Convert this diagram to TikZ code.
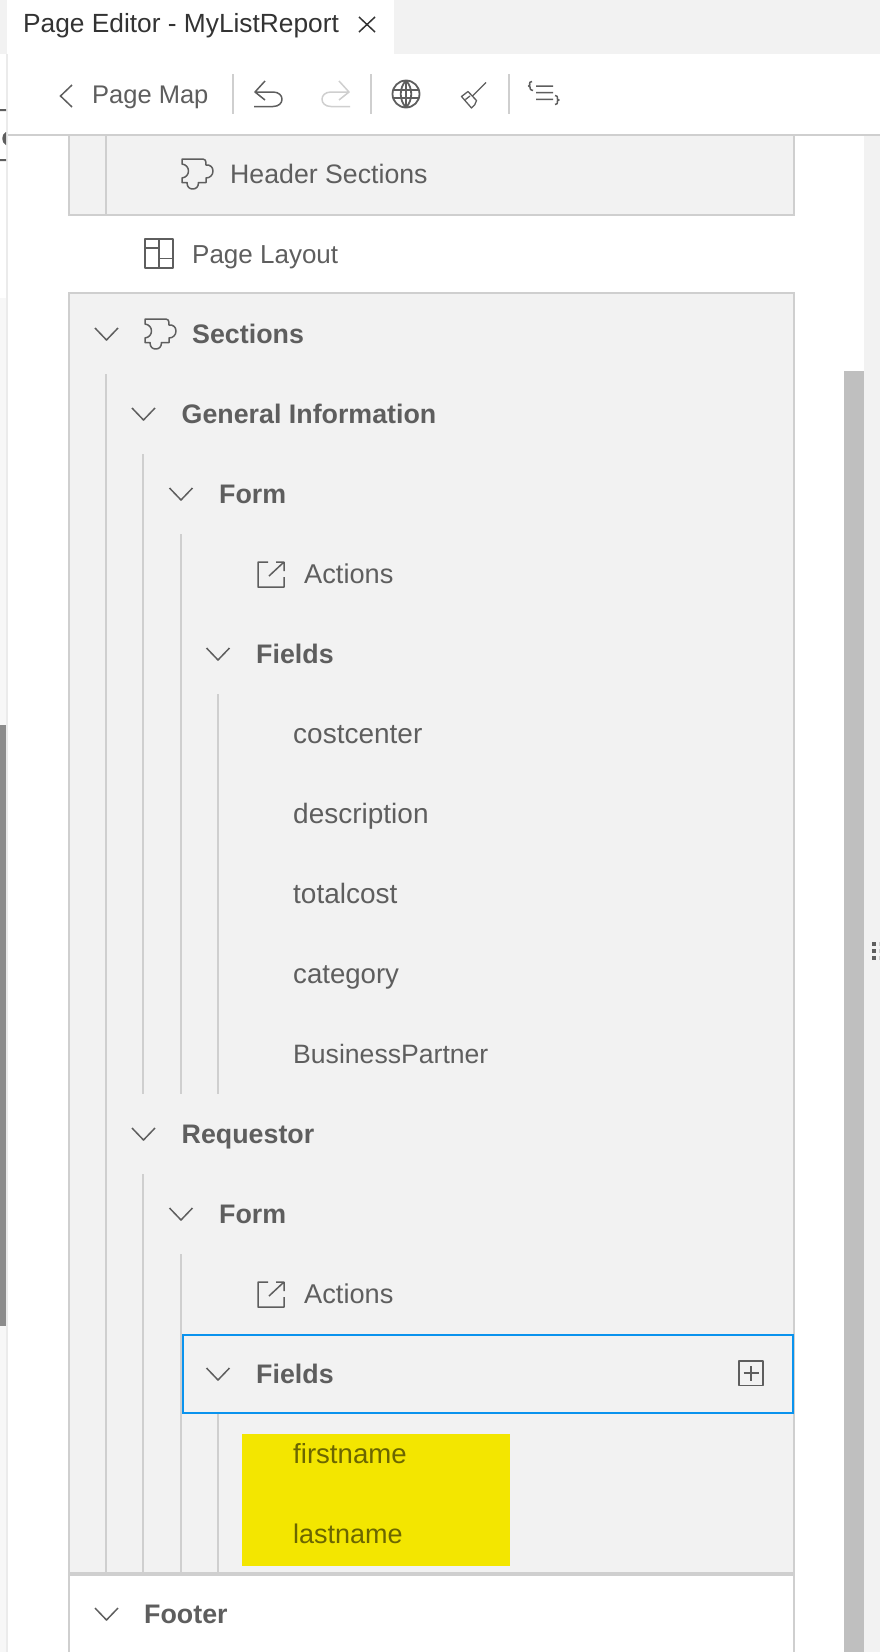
\documentclass[tikz,border=0pt]{standalone}
\usepackage{fontspec}
\setmainfont{Liberation Sans}
\definecolor{cpanel}{HTML}{F2F2F2}
\definecolor{cline}{HTML}{CFCFCF}
\definecolor{cink}{HTML}{5E5E5E}
\definecolor{cdark}{HTML}{333333}
\definecolor{cblue}{HTML}{0A93EE}
\definecolor{cyell}{HTML}{F3E600}
\definecolor{colive}{HTML}{6B6600}
\definecolor{cscroll}{HTML}{BFBFBF}
\tikzset{
  itm/.style={anchor=base west,inner sep=0pt,text=cink},
  bld/.style={itm,font=\fontsize{26.8}{31}\selectfont\bfseries},
  guide/.style={cline,line width=2pt},
  ico/.style={cink,line width=1.5pt,line join=round},
}
\newcommand{\chev}[2]{\draw[ico] (#1-11.5,#2-6) -- (#1,#2+6) -- (#1+11.5,#2-6);}
\newcommand{\puzzle}[2]{\draw[ico,shift={(#1,#2)}] (1,1) -- (22,1) .. controls (24,1) and (25,2) .. (25,7)
  .. controls (29,6.5) and (32,9) .. (32,13) .. controls (32,17) and (29,20) .. (25,20) -- (25,24.5) -- (17.5,24.5)
  .. controls (17.5,29) and (15,31) .. (11.7,31) .. controls (8.5,31) and (6,29) .. (6,24.5) -- (1,24.5) -- (1,20)
  .. controls (5,19.5) and (7.5,16.5) .. (7.5,13) .. controls (7.5,9.5) and (5,6.5) .. (1,6) -- cycle;}
\newcommand{\actico}[2]{\draw[ico,shift={(#1,#2)}] (11,1) -- (1,1) -- (1,26) -- (27,26) -- (27,16)
  (27,10) -- (27,1) -- (19,1) (27,1) -- (12,15);}
\begin{document}
\begin{tikzpicture}[x=1pt,y=-1pt]
\useasboundingbox (0,0) rectangle (880,1652);
% window background
\fill[white] (0,0) rectangle (880,1652);
\fill[cpanel] (0,0) rectangle (880,54);
\fill[white] (7,0) rectangle (394,54);
\fill[cpanel!60!white] (0,298) rectangle (6,1652);
\fill[black!45] (0,725) rectangle (6,1326);
\fill[black!8] (6,54) rectangle (8,1652);
\fill[cink] (0,109) rectangle (6,111) (0,159) rectangle (6,161);
\fill[cink] (6,132) .. controls (1,134) and (1,143) .. (6,145) -- cycle;
\fill[cpanel] (864,136) rectangle (880,1652);
\fill[cscroll] (844,371) rectangle (864,1652);
\foreach \yy in {942,949,956}{
  \fill[cink] (872,\yy) rectangle (876,\yy+4);
  \fill[cline] (879,\yy) rectangle (880,\yy+4);
}
% panels
\draw[cline,line width=2pt,fill=cpanel] (69,130) -- (69,215) -- (794,215) -- (794,130);
\draw[cline,line width=2pt,fill=cpanel] (69,1652) -- (69,293) -- (794,293) -- (794,1652);
\draw[cline,line width=2pt,fill=white] (69,1652) -- (69,1574) -- (794,1574) -- (794,1652);
\draw[cline,line width=4pt] (68,1574) -- (795,1574);
% toolbar
\fill[white] (8,54) rectangle (880,134);
\draw[cline,line width=2pt] (8,135) -- (880,135);
\foreach \sx in {233,371,509}{\draw[guide,line width=1.6pt] (\sx,74) -- (\sx,114);}
% tree guides
\foreach \gx/\ya/\yb in {106/136/215, 106/374/1573, 143/454/1094, 181/534/1094, 218/694/1094,
    143/1174/1573, 181/1254/1573, 218/1414/1573}{
  \draw[guide] (\gx,\ya) -- (\gx,\yb);
}
% highlight and selection
\fill[cyell] (242,1434) rectangle (510,1566);
\draw[cblue,line width=2pt] (183,1335) rectangle (793,1413);
% labels
\node[itm,text=cdark,font=\fontsize{26.3}{31}\selectfont] (tabtitle) at (23,32) {Page Editor - MyListReport};
\foreach \nm/\tx/\ty/\fs/\lab in {pagemap/92/103/25.5/Page Map, headsec/230/183/26.7/Header Sections, pagelay/192/263/26/Page Layout,
    actone/304/583/27.2/Actions, costc/293/743/28/costcenter, descr/293/823/28/description, totc/293/903/28/totalcost,
    categ/293/983/27.6/category, bpart/293/1063/26.6/BusinessPartner, acttwo/304/1303/27.2/Actions}{
  \node[itm,font=\fontsize{\fs}{31}\selectfont] (\nm) at (\tx,\ty) {\lab};
}
\node[itm,text=colive,font=\fontsize{27.6}{31}\selectfont] (fname) at (293,1463) {firstname};
\node[itm,text=colive,font=\fontsize{27}{31}\selectfont] (lname) at (293,1543) {lastname};
\foreach \nm/\tx/\ty/\lab in {sect/192/343/Sections, geninf/181.5/423/General Information, formone/219/503/Form,
    fldone/256/663/Fields, reqst/181.5/1143/Requestor, formtwo/219/1223/Form, fldtwo/256/1383/Fields, foot/144/1623/Footer}{
  \node[bld] (\nm) at (\tx,\ty) {\lab};
}
% chevrons
\foreach \cx/\cy in {106.5/334, 143.5/414, 181/494, 218/654, 143.5/1134, 181/1214, 218/1374, 106.5/1614}{\chev{\cx}{\cy}}
% icons
\puzzle{181}{158}
\puzzle{144}{318}
\actico{257}{561}
\actico{257}{1281}
\draw[ico] (144.8,239) rectangle (173.2,268) (144.8,248) -- (159,248) (159,239) -- (159,268) (159,258.5) -- (173.2,258.5);
\draw[ico] (738.8,1361) rectangle (763.2,1385.5) (751,1366) -- (751,1381) (743.5,1373) -- (758.5,1373);
% toolbar icons
\draw[cink,line width=1.5pt] (72,85) -- (60.5,96) -- (72,107);
\draw[cdark,line width=1.5pt] (359,17) -- (375,32) (375,17) -- (359,32);
\draw[ico] (265,81) -- (255,92) -- (265,100) (255,92) -- (273,92) .. controls (285,92) and (285,106.5) .. (273,106.5) -- (254,106.5);
\draw[ico,cline] (339,81) -- (349,92) -- (339,100) (349,92) -- (331,92) .. controls (319,92) and (319,106.5) .. (331,106.5) -- (350,106.5);
\draw[ico,line width=1.8pt] (406,94) circle[radius=13.5] (406,80.5) .. controls (399,88) and (399,100) .. (406,107.5)
  (406,80.5) .. controls (413,88) and (413,100) .. (406,107.5) (406,80.5) -- (406,107.5) (393,90) -- (419,90) (393,98) -- (419,98);
\draw[ico,line width=1.3pt] (486,82.5) -- (472.5,96) (468,91.5) -- (476.5,100.5) .. controls (476,104) and (474,106) .. (471.5,108) -- (461.5,96.5) -- cycle (465.5,99.5) -- (470,96);
\draw[ico] (532,81.5) .. controls (527,82) and (532,85.5) .. (528.5,86) .. controls (532,86.5) and (528,90) .. (533,90.5)
  (536,86) -- (553,86) (536,92.7) -- (553,92.7) (536,99.3) -- (553,99.3)
  (555,95.5) .. controls (560,96) and (555,99.5) .. (559,100) .. controls (555,100.5) and (560,104) .. (555,104.5);
\end{tikzpicture}
\end{document}
